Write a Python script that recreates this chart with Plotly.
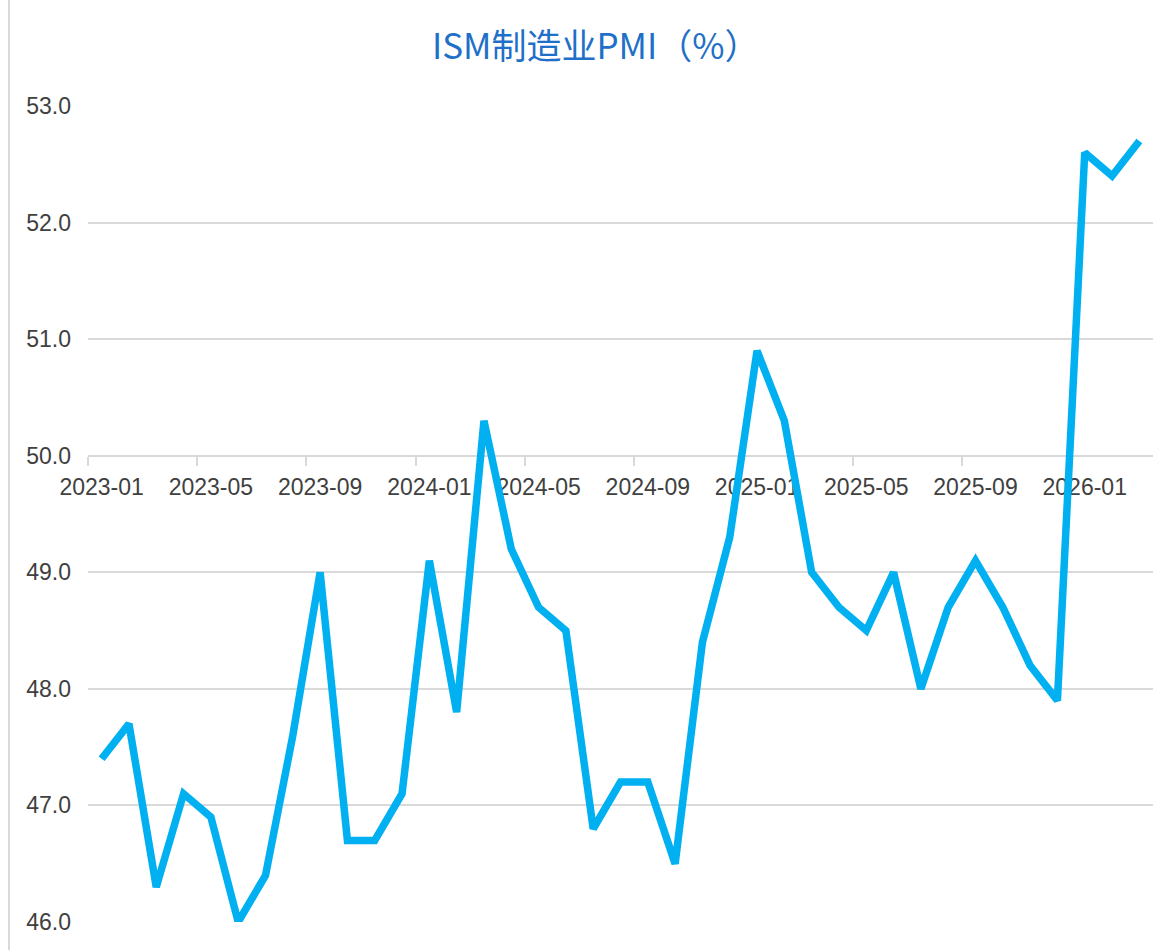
import plotly.graph_objects as go

# ---- data ----
months = [
    "2023-01", "2023-02", "2023-03", "2023-04", "2023-05", "2023-06",
    "2023-07", "2023-08", "2023-09", "2023-10", "2023-11", "2023-12",
    "2024-01", "2024-02", "2024-03", "2024-04", "2024-05", "2024-06",
    "2024-07", "2024-08", "2024-09", "2024-10", "2024-11", "2024-12",
    "2025-01", "2025-02", "2025-03", "2025-04", "2025-05", "2025-06",
    "2025-07", "2025-08", "2025-09", "2025-10", "2025-11", "2025-12",
    "2026-01", "2026-02", "2026-03",
]
pmi = [
    47.4, 47.7, 46.3, 47.1, 46.9, 46.0,
    46.4, 47.6, 49.0, 46.7, 46.7, 47.1,
    49.1, 47.8, 50.3, 49.2, 48.7, 48.5,
    46.8, 47.2, 47.2, 46.5, 48.4, 49.3,
    50.9, 50.3, 49.0, 48.7, 48.5, 49.0,
    48.0, 48.7, 49.1, 48.7, 48.2, 47.9,
    52.6, 52.4, 52.7,
]
y_ticks = [46.0, 47.0, 48.0, 49.0, 50.0, 51.0, 52.0, 53.0]
title_text = "ISM制造业PMI（%）"

y_min, y_max = 46.0, 53.0
x_cross = 50.0

fig = go.Figure()
fig.add_trace(go.Scatter(
    x=months, y=pmi, mode="lines",
    line=dict(color="#00B0F0", width=7.5),
    hoverinfo="x+y",
))

fig.update_layout(
    width=1168, height=950,
    margin=dict(l=88, r=15, t=106, b=28, autoexpand=False),
    paper_bgcolor="white", plot_bgcolor="white",
    showlegend=False,
    title=dict(
        text=title_text, x=0.51, xref="container", xanchor="center",
        y=1 - 47 / 950, yref="container", yanchor="middle",
        font=dict(family="Noto Sans CJK SC", size=35, color="#1F70C8"),
    ),
    xaxis=dict(
        type="category",
        range=[-0.5, len(months) - 0.5],
        anchor="free",
        position=(x_cross - y_min) / (y_max - y_min),
        tickmode="linear", tick0=0, dtick=4,
        tickson="boundaries",
        ticks="outside", ticklen=9, tickwidth=2, tickcolor="#D9D9D9",
        showline=True, linecolor="#D9D9D9", linewidth=2,
        showgrid=False, zeroline=False,
        tickangle=0, automargin=False,
        tickfont=dict(family="Liberation Sans", size=23, color="#404040"),
        ticklabelstandoff=11,
        layer="below traces",
    ),
    yaxis=dict(
        range=[y_min, y_max],
        tickmode="array", tickvals=y_ticks,
        ticktext=[f"{v:.1f}" for v in y_ticks],
        showgrid=True, gridcolor="#D9D9D9", gridwidth=2,
        zeroline=False, showline=False, ticks="",
        automargin=False,
        tickfont=dict(family="Liberation Sans", size=23, color="#404040"),
        ticklabelstandoff=16,
        layer="below traces",
    ),
    shapes=[dict(
        type="line", xref="paper", yref="paper",
        x0=(9 - 88) / (1153 - 88), x1=(9 - 88) / (1153 - 88),
        y0=-0.2, y1=1.2,
        line=dict(color="#D9D9D9", width=2),
    )],
)

fig.write_html(
    "out.html",
    config={"displayModeBar": False},
    post_script="document.body.style.margin='0';",
)
